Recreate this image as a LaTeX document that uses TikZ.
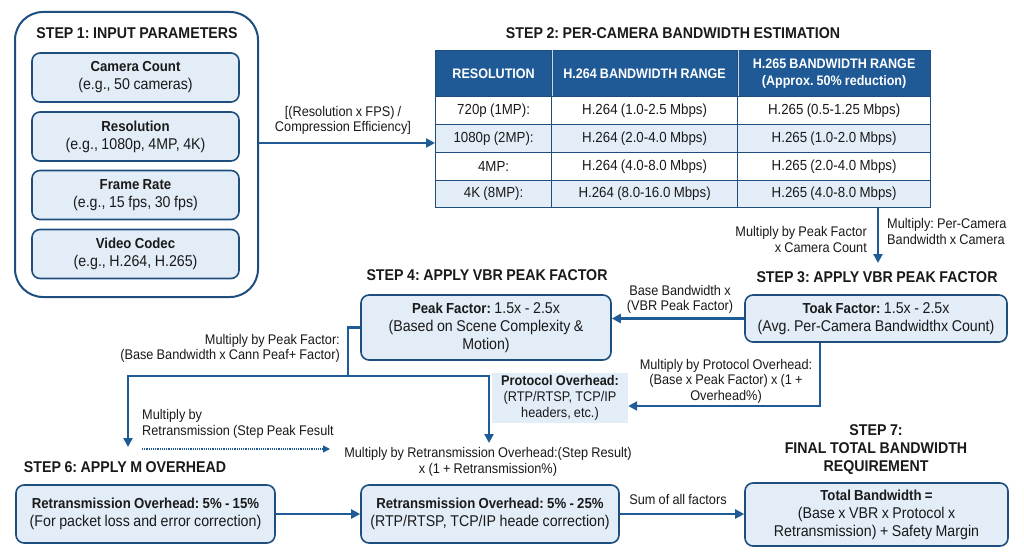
\documentclass[tikz,border=0pt]{standalone}
\usepackage{fontspec}
\setmainfont{Liberation Sans}[FakeStretch=0.91,WordSpace=0.9]
\usetikzlibrary{arrows.meta,calc}
\definecolor{dblue}{HTML}{1D4E7E}
\definecolor{ablue}{HTML}{1F5B97}
\definecolor{lblue}{HTML}{E2EDF8}
\definecolor{hblue}{HTML}{1F5A97}
\definecolor{ink}{HTML}{1A1A1A}
\newcommand\hb[1]{{\fontsize{14.5}{18}\selectfont\bfseries #1}}
\begin{document}
\frenchspacing
\begin{tikzpicture}[x=1pt,y=-1pt,
  every node/.style={text=ink},
  box/.style={draw=dblue, line width=1.6pt, fill=lblue, rounded corners=8pt, align=center, inner sep=0pt, font=\fontsize{15.6}{18}\selectfont},
  ttl/.style={font=\bfseries\fontsize{15.6}{18}\selectfont, align=center, inner sep=0pt},
  lbl/.style={font=\fontsize{14}{15.5}\selectfont, align=center, inner sep=0pt},
  cell/.style={draw=dblue, line width=1.2pt, anchor=north west, inner sep=0pt, align=center, font=\fontsize{14.6}{17}\selectfont},
  hcell/.style={cell, fill=hblue, text=white, font=\bfseries\fontsize{13.8}{17}\selectfont},
  arr/.style={draw=ablue, line width=2.3pt, -{Triangle[length=9pt,width=9pt]}},
  ln/.style={draw=ablue, line width=2.3pt}]
\useasboundingbox[fill=white] (0,0) rectangle (1024,559);

% STEP 1
\node[draw=dblue, line width=2pt, rounded corners=28pt, minimum width=243pt, minimum height=285pt, inner sep=0pt] (s1) at (136.5,154.5) {};
\node[ttl] (t1) at (137,33) {STEP 1: INPUT PARAMETERS};
\node[box, minimum width=207pt, minimum height=49pt] (b1) at (135.5,77.5) {\hb{Camera Count}\\(e.g., 50 cameras)};
\node[box, minimum width=207pt, minimum height=49pt] (b2) at (135.5,136.5) {\hb{Resolution}\\(e.g., 1080p, 4MP, 4K)};
\node[box, minimum width=207pt, minimum height=49pt] (b3) at (135.5,195) {\hb{Frame Rate}\\(e.g., 15 fps, 30 fps)};
\node[box, minimum width=207pt, minimum height=49pt] (b4) at (135.5,254) {\hb{Video Codec}\\(e.g., H.264, H.265)};

% STEP 2 table
\node[ttl] (t2) at (673,33) {STEP 2: PER-CAMERA BANDWIDTH ESTIMATION};
\node[hcell, minimum width=116pt, minimum height=46pt] (h1) at (435,50) {RESOLUTION};
\node[hcell, minimum width=186pt, minimum height=46pt] (h2) at (551,50) {H.264 BANDWIDTH RANGE};
\node[hcell, minimum width=193pt, minimum height=46pt] (h3) at (737,50) {H.265 BANDWIDTH RANGE\\(Approx. 50\% reduction)};
\draw[white!75!hblue, line width=0.8pt] (h1.north east) -- (h1.south east) (h2.north east) -- (h2.south east);

\node[cell, fill=white, minimum width=116pt, minimum height=28pt] (r1c1) at (435,96) {720p (1MP):};
\node[cell, fill=white, minimum width=186pt, minimum height=28pt] (r1c2) at (551,96) {H.264 (1.0-2.5 Mbps)};
\node[cell, fill=white, minimum width=193pt, minimum height=28pt] (r1c3) at (737,96) {H.265 (0.5-1.25 Mbps)};
\node[cell, fill=lblue, minimum width=116pt, minimum height=28pt] (r2c1) at (435,124) {1080p (2MP):};
\node[cell, fill=lblue, minimum width=186pt, minimum height=28pt] (r2c2) at (551,124) {H.264 (2.0-4.0 Mbps)};
\node[cell, fill=lblue, minimum width=193pt, minimum height=28pt] (r2c3) at (737,124) {H.265 (1.0-2.0 Mbps)};
\node[cell, fill=white, minimum width=116pt, minimum height=28pt] (r3c1) at (435,152) {4MP:};
\node[cell, fill=white, minimum width=186pt, minimum height=28pt] (r3c2) at (551,152) {H.264 (4.0-8.0 Mbps)};
\node[cell, fill=white, minimum width=193pt, minimum height=28pt] (r3c3) at (737,152) {H.265 (2.0-4.0 Mbps)};
\node[cell, fill=lblue, minimum width=116pt, minimum height=27pt] (r4c1) at (435,180) {4K (8MP):};
\node[cell, fill=lblue, minimum width=186pt, minimum height=27pt] (r4c2) at (551,180) {H.264 (8.0-16.0 Mbps)};
\node[cell, fill=lblue, minimum width=193pt, minimum height=27pt] (r4c3) at (737,180) {H.265 (4.0-8.0 Mbps)};

% arrow step1 -> table
\coordinate (a1) at (435,143);
\draw[arr] (s1.east |- a1) -- (a1);
\node[lbl] (l1) at (343,120.5) {[(Resolution x FPS) /\\Compression Efficiency]};

% table -> step3
\coordinate (a2) at (878,263);
\draw[arr] (r4c3.south -| a2) -- (a2);
\node[lbl, anchor=east, align=right] (l2) at (867,239.5) {Multiply by Peak Factor\\x Camera Count};
\node[lbl, anchor=west, align=left] (l3) at (887,231.5) {Multiply: Per-Camera\\Bandwidth x Camera};

% STEP 3
\node[ttl] (t3) at (877,277) {STEP 3: APPLY VBR PEAK FACTOR};
\node[box, minimum width=262pt, minimum height=47pt] (s3) at (876,318.5) {\hb{Toak Factor:} 1.5x - 2.5x\\(Avg. Per-Camera Bandwidthx Count)};

% STEP 4
\node[ttl] (t4) at (487,275) {STEP 4: APPLY VBR PEAK FACTOR};
\node[box, minimum width=250pt, minimum height=65pt] (s4) at (486,327.5) {\hb{Peak Factor:} 1.5x - 2.5x\\(Based on Scene Complexity \&\\Motion)};

\draw[arr] (s3.west) -- (s4.east |- s3.west);
\node[lbl] (l4) at (680,299.5) {Base Bandwidth x\\(VBR Peak Factor)};

% Protocol overhead
\node[fill=lblue, minimum width=136pt, minimum height=50pt, inner sep=0pt, align=center, font=\fontsize{14}{16}\selectfont] (po) at (560,398) {\textbf{Protocol Overhead:}\\(RTP/RTSP, TCP/IP\\headers, etc.)};
\coordinate (p3) at (820,406);
\draw[arr] (s3.south -| p3) -- (p3) -- (po.east |- p3);
\node[lbl] (l5) at (726,381) {Multiply by Protocol Overhead:\\(Base x Peak Factor) x (1 +\\Overhead\%)};

% branch from step4
\coordinate (j) at (348,376);
\coordinate (e6) at (128,447);
\coordinate (e5) at (489,443);
\draw[ln] (s4.west) -| (j);
\draw[arr] (j) -| (e6);
\draw[arr] (j) -| (e5);
\node[lbl, anchor=east, align=right] (l6) at (340,348.5) {Multiply by Peak Factor:\\(Base Bandwidth x Cann Peaf+ Factor)};
\node[lbl, anchor=west, align=left] (l7) at (142,424) {Multiply by\\Retransmission (Step Peak Fesult};
\coordinate (d1) at (142,449);
\coordinate (d2) at (330,449);
\draw[draw=ablue, line width=1.2pt, densely dotted, -{Triangle[length=7pt,width=7pt]}] (d1) -- (d2);
\node[lbl] (l8) at (488,462) {Multiply by Retransmission Overhead:(Step Result)\\x (1 + Retransmission\%)};

% STEP 6
\node[ttl] (t6) at (125,467) {STEP 6: APPLY M OVERHEAD};
\node[box, minimum width=259pt, minimum height=58pt] (s6) at (145.5,514) {\hb{Retransmission Overhead: 5\% - 15\%}\\(For packet loss and error correction)};

% STEP 5
\node[box, minimum width=258pt, minimum height=58pt] (s5) at (490,514) {\hb{Retransmission Overhead: 5\% - 25\%}\\(RTP/RTSP, TCP/IP heade correction)};
\draw[arr] (s6.east) -- (s5.west);

% STEP 7
\node[ttl] (t7) at (876,450) {STEP 7:\\FINAL TOTAL BANDWIDTH\\REQUIREMENT};
\node[box, minimum width=263pt, minimum height=63pt] (s7) at (876.5,514.5) {\hb{Total Bandwidth =}\\(Base x VBR x Protocol x\\Retransmission) + Safety Margin};
\draw[arr] (s5.east) -- (s7.west |- s5.east);
\node[lbl] (l9) at (678,499) {Sum of all factors};
\end{tikzpicture}
\end{document}
